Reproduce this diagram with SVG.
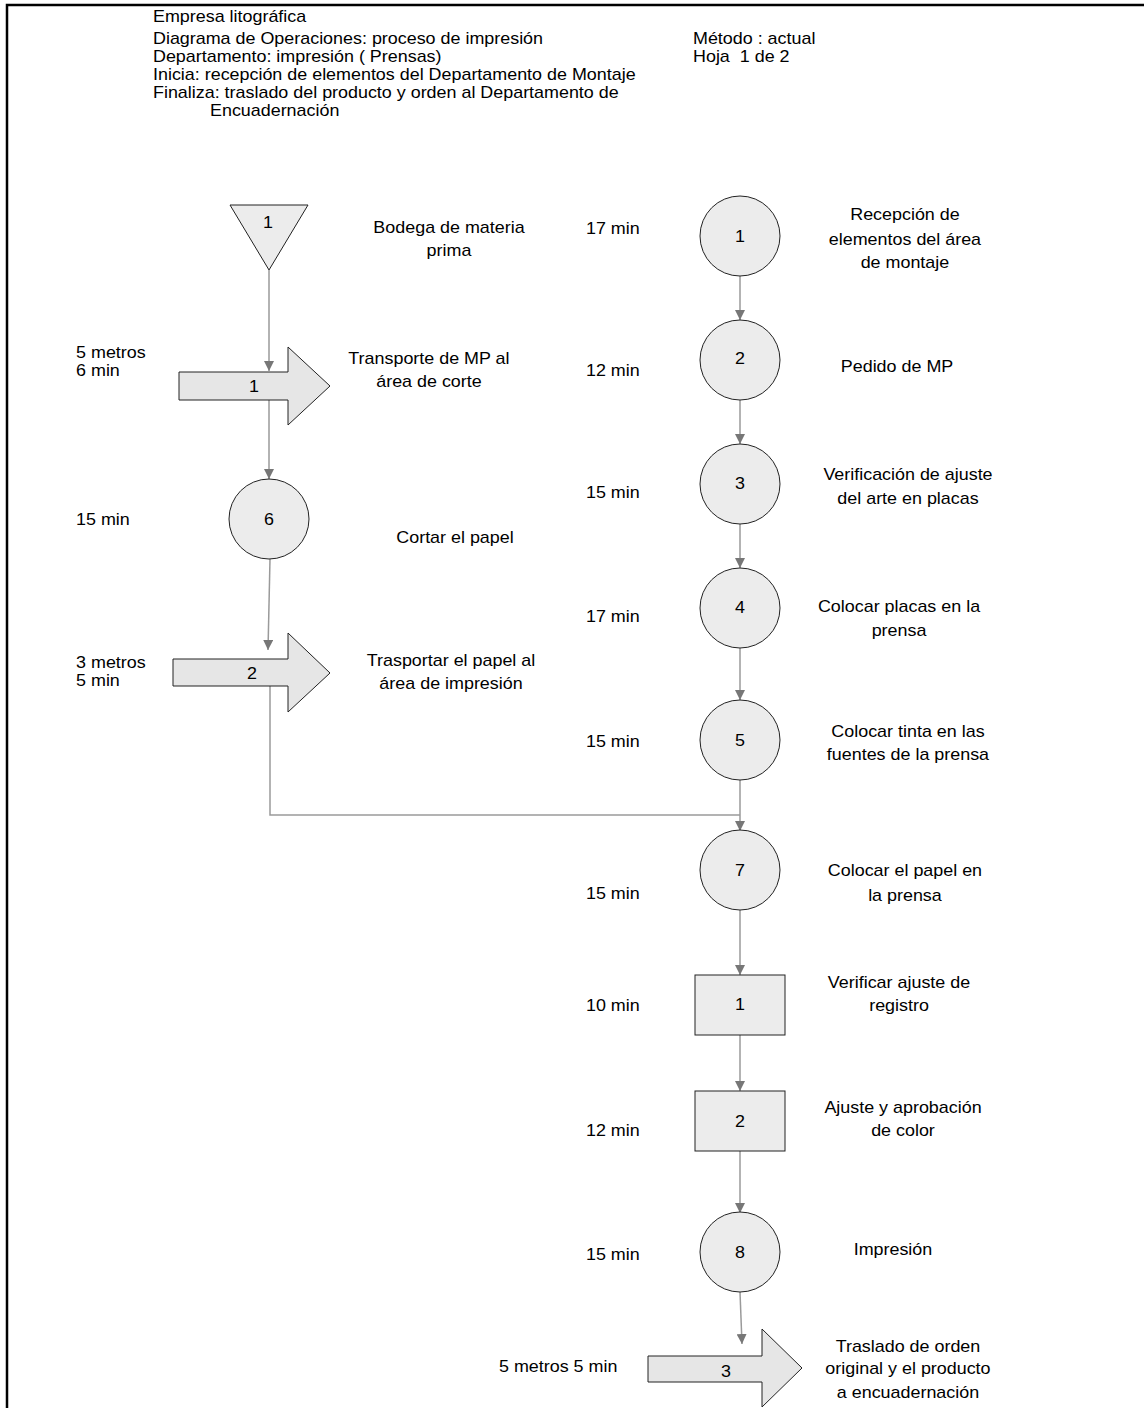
<svg xmlns="http://www.w3.org/2000/svg" width="1144" height="1408" viewBox="0 0 1144 1408">
  <style>
    text { font-family: "Liberation Sans", Arial, sans-serif; font-size: 16px; fill: #000; white-space: pre; }
    .mid { text-anchor: middle; }
    .shape { fill: #ececec; stroke: #222; stroke-width: 1; }
    .move { fill: #e6e6e6; stroke: #222; stroke-width: 1; }
    .link { fill: none; stroke: #9a9a9a; stroke-width: 1.5; }
  </style>
  <defs>
    <marker id="head" viewBox="0 0 10 10" refX="10" refY="5" markerWidth="10" markerHeight="10" markerUnits="userSpaceOnUse" orient="auto">
      <path d="M0,0 L10,5 L0,10 Z" fill="#777"/>
    </marker>
  </defs>
  <rect width="1144" height="1408" fill="#fff"/>

  <!-- frame -->
  <path d="M7,1408 V5 H1144" fill="none" stroke="#000" stroke-width="2.5"/>

  <!-- header -->
  <g id="header">
    <text transform="scale(1.12 1)" x="136.6" y="22">Empresa litográfica</text>
    <text transform="scale(1.12 1)" x="136.6" y="44">Diagrama de Operaciones: proceso de impresión</text>
    <text transform="scale(1.12 1)" x="136.6" y="62">Departamento: impresión ( Prensas)</text>
    <text transform="scale(1.12 1)" x="136.6" y="80">Inicia: recepción de elementos del Departamento de Montaje</text>
    <text transform="scale(1.12 1)" x="136.6" y="98">Finaliza: traslado del producto y orden al Departamento de</text>
    <text transform="scale(1.12 1)" x="187.5" y="116">Encuadernación</text>
    <text transform="scale(1.12 1)" x="618.75" y="44">Método : actual</text>
    <text transform="scale(1.12 1)" x="618.75" y="62" xml:space="preserve">Hoja  1 de 2</text>
  </g>

  <!-- connectors -->
  <g id="connectors">
    <path class="link" d="M269,270 V371" marker-end="url(#head)"/>
    <path class="link" d="M269,400 V479" marker-end="url(#head)"/>
    <path class="link" d="M270,559 L268,650" marker-end="url(#head)"/>
    <path class="link" d="M270,686 V815 H740"/>
    <path class="link" d="M740,276 V320" marker-end="url(#head)"/>
    <path class="link" d="M740,400 V444" marker-end="url(#head)"/>
    <path class="link" d="M740,524 V568" marker-end="url(#head)"/>
    <path class="link" d="M740,648 V700" marker-end="url(#head)"/>
    <path class="link" d="M740,780 V831" marker-end="url(#head)"/>
    <path class="link" d="M740,910 V975" marker-end="url(#head)"/>
    <path class="link" d="M740,1035 V1091" marker-end="url(#head)"/>
    <path class="link" d="M740,1151 V1213" marker-end="url(#head)"/>
    <path class="link" d="M740,1292 L742,1344" marker-end="url(#head)"/>
  </g>

  <!-- left column -->
  <g id="storage-1">
    <polygon class="shape" points="230,205 308,205 269,270"/>
    <text class="mid" transform="scale(1.12 1)" x="239.3" y="228">1</text>
    <text class="mid" transform="scale(1.12 1)" x="400.9" y="233">Bodega de materia</text>
    <text class="mid" transform="scale(1.12 1)" x="400.9" y="256">prima</text>
  </g>

  <g id="transport-1">
    <polygon class="move" points="179,372 288,372 288,347 330,386 288,425 288,400 179,400"/>
    <text class="mid" transform="scale(1.12 1)" x="226.8" y="392">1</text>
    <text transform="scale(1.12 1)" x="67.9" y="358">5 metros</text>
    <text transform="scale(1.12 1)" x="67.9" y="376">6 min</text>
    <text class="mid" transform="scale(1.12 1)" x="383" y="364">Transporte de MP al</text>
    <text class="mid" transform="scale(1.12 1)" x="383" y="387">área de corte</text>
  </g>

  <g id="operation-6">
    <circle class="shape" cx="269" cy="519" r="40"/>
    <text class="mid" transform="scale(1.12 1)" x="240.2" y="525">6</text>
    <text transform="scale(1.12 1)" x="67.9" y="525">15 min</text>
    <text class="mid" transform="scale(1.12 1)" x="406.25" y="543">Cortar el papel</text>
  </g>

  <g id="transport-2">
    <polygon class="move" points="173,659 288,659 288,633 330,673 288,712 288,686 173,686"/>
    <text class="mid" transform="scale(1.12 1)" x="225" y="679">2</text>
    <text transform="scale(1.12 1)" x="67.9" y="668">3 metros</text>
    <text transform="scale(1.12 1)" x="67.9" y="686">5 min</text>
    <text class="mid" transform="scale(1.12 1)" x="402.7" y="666">Trasportar el papel al</text>
    <text class="mid" transform="scale(1.12 1)" x="402.7" y="689">área de impresión</text>
  </g>

  <!-- right column -->
  <g id="operation-1">
    <circle class="shape" cx="740" cy="236" r="40"/>
    <text class="mid" transform="scale(1.12 1)" x="660.7" y="242">1</text>
    <text transform="scale(1.12 1)" x="523.2" y="234">17 min</text>
    <text class="mid" transform="scale(1.12 1)" x="808" y="220">Recepción de</text>
    <text class="mid" transform="scale(1.12 1)" x="808" y="245">elementos del área</text>
    <text class="mid" transform="scale(1.12 1)" x="808" y="268">de montaje</text>
  </g>

  <g id="operation-2">
    <circle class="shape" cx="740" cy="360" r="40"/>
    <text class="mid" transform="scale(1.12 1)" x="660.7" y="364">2</text>
    <text transform="scale(1.12 1)" x="523.2" y="376">12 min</text>
    <text class="mid" transform="scale(1.12 1)" x="800.9" y="372">Pedido de MP</text>
  </g>

  <g id="operation-3">
    <circle class="shape" cx="740" cy="484" r="40"/>
    <text class="mid" transform="scale(1.12 1)" x="660.7" y="489">3</text>
    <text transform="scale(1.12 1)" x="523.2" y="498">15 min</text>
    <text class="mid" transform="scale(1.12 1)" x="810.7" y="480">Verificación de ajuste</text>
    <text class="mid" transform="scale(1.12 1)" x="810.7" y="504">del arte en placas</text>
  </g>

  <g id="operation-4">
    <circle class="shape" cx="740" cy="608" r="40"/>
    <text class="mid" transform="scale(1.12 1)" x="660.7" y="613">4</text>
    <text transform="scale(1.12 1)" x="523.2" y="622">17 min</text>
    <text class="mid" transform="scale(1.12 1)" x="802.7" y="612">Colocar placas en la</text>
    <text class="mid" transform="scale(1.12 1)" x="802.7" y="636">prensa</text>
  </g>

  <g id="operation-5">
    <circle class="shape" cx="740" cy="740" r="40"/>
    <text class="mid" transform="scale(1.12 1)" x="660.7" y="746">5</text>
    <text transform="scale(1.12 1)" x="523.2" y="747">15 min</text>
    <text class="mid" transform="scale(1.12 1)" x="810.7" y="737">Colocar tinta en las</text>
    <text class="mid" transform="scale(1.12 1)" x="810.7" y="760">fuentes de la prensa</text>
  </g>

  <g id="operation-7">
    <circle class="shape" cx="740" cy="870" r="40"/>
    <text class="mid" transform="scale(1.12 1)" x="660.7" y="876">7</text>
    <text transform="scale(1.12 1)" x="523.2" y="899">15 min</text>
    <text class="mid" transform="scale(1.12 1)" x="808" y="876">Colocar el papel en</text>
    <text class="mid" transform="scale(1.12 1)" x="808" y="901">la prensa</text>
  </g>

  <g id="inspection-1">
    <rect class="shape" x="695" y="975" width="90" height="60"/>
    <text class="mid" transform="scale(1.12 1)" x="660.7" y="1010">1</text>
    <text transform="scale(1.12 1)" x="523.2" y="1011">10 min</text>
    <text class="mid" transform="scale(1.12 1)" x="802.7" y="988">Verificar ajuste de</text>
    <text class="mid" transform="scale(1.12 1)" x="802.7" y="1011">registro</text>
  </g>

  <g id="inspection-2">
    <rect class="shape" x="695" y="1091" width="90" height="60"/>
    <text class="mid" transform="scale(1.12 1)" x="660.7" y="1127">2</text>
    <text transform="scale(1.12 1)" x="523.2" y="1136">12 min</text>
    <text class="mid" transform="scale(1.12 1)" x="806.25" y="1113">Ajuste y aprobación</text>
    <text class="mid" transform="scale(1.12 1)" x="806.25" y="1136">de color</text>
  </g>

  <g id="operation-8">
    <circle class="shape" cx="740" cy="1252" r="40"/>
    <text class="mid" transform="scale(1.12 1)" x="660.7" y="1258">8</text>
    <text transform="scale(1.12 1)" x="523.2" y="1260">15 min</text>
    <text class="mid" transform="scale(1.12 1)" x="797.3" y="1255">Impresión</text>
  </g>

  <g id="transport-3">
    <polygon class="move" points="648,1356 762,1356 762,1329 802,1368 762,1407 762,1382 648,1382"/>
    <text class="mid" transform="scale(1.12 1)" x="648.2" y="1377">3</text>
    <text transform="scale(1.12 1)" x="445.5" y="1372">5 metros 5 min</text>
    <text class="mid" transform="scale(1.12 1)" x="810.7" y="1352">Traslado de orden</text>
    <text class="mid" transform="scale(1.12 1)" x="810.7" y="1374">original y el producto</text>
    <text class="mid" transform="scale(1.12 1)" x="810.7" y="1398">a encuadernación</text>
  </g>
</svg>
